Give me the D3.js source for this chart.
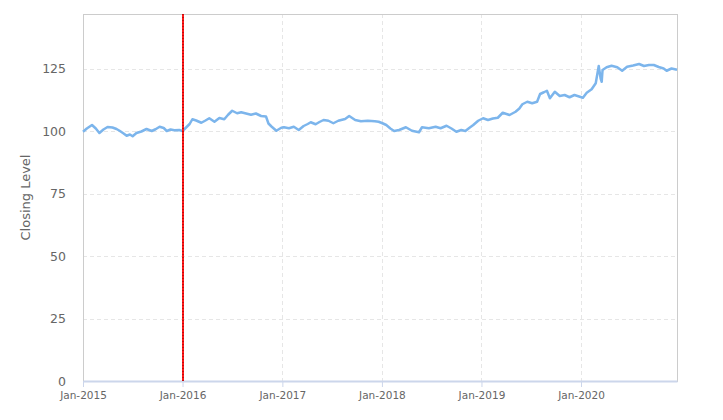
<!DOCTYPE html>
<html>
<head>
<meta charset="utf-8">
<script src="https://cdn.jsdelivr.net/npm/d3@7"></script>
<style>
  body { margin: 0; background: #fff; }
  svg text { font-family: 'DejaVu Sans', sans-serif; fill: #666; }
</style>
</head>
<body>
<svg></svg>
<script>
const DATES = [
  '2015-01-01', '2015-01-15', '2015-02-03', '2015-02-17', '2015-03-02', '2015-03-17', '2015-04-01', '2015-04-19',
  '2015-05-04', '2015-05-15', '2015-05-30', '2015-06-10', '2015-06-22', '2015-07-02', '2015-07-16', '2015-08-03',
  '2015-08-22', '2015-09-10', '2015-09-24', '2015-10-09', '2015-10-24', '2015-11-04', '2015-11-18', '2015-12-02',
  '2015-12-20', '2016-01-01', '2016-01-15', '2016-01-27', '2016-02-06', '2016-02-20', '2016-03-10', '2016-03-25',
  '2016-04-08', '2016-04-27', '2016-05-15', '2016-06-02', '2016-06-16', '2016-07-01', '2016-07-19', '2016-08-03',
  '2016-08-21', '2016-09-08', '2016-09-26', '2016-10-15', '2016-11-02', '2016-11-11', '2016-11-22', '2016-12-10',
  '2016-12-28', '2017-01-07', '2017-01-25', '2017-02-12', '2017-03-02', '2017-03-20', '2017-04-04', '2017-04-15',
  '2017-05-03', '2017-05-17', '2017-06-01', '2017-06-19', '2017-07-07', '2017-07-25', '2017-08-19', '2017-09-03',
  '2017-09-25', '2017-10-16', '2017-11-10', '2017-12-06', '2017-12-20', '2018-01-03', '2018-01-17', '2018-02-01',
  '2018-02-15', '2018-03-05', '2018-03-30', '2018-04-21', '2018-05-17', '2018-05-28', '2018-06-22', '2018-07-17',
  '2018-08-04', '2018-08-26', '2018-09-13', '2018-10-01', '2018-10-19', '2018-11-03', '2018-11-17', '2018-12-02',
  '2018-12-20', '2019-01-07', '2019-01-25', '2019-02-12', '2019-03-02', '2019-03-20', '2019-04-14', '2019-05-06',
  '2019-05-20', '2019-05-31', '2019-06-18', '2019-07-06', '2019-07-24', '2019-08-04', '2019-08-18', '2019-08-29',
  '2019-09-09', '2019-09-27', '2019-10-15', '2019-11-02', '2019-11-20', '2019-12-08', '2020-01-08', '2020-01-22',
  '2020-02-09', '2020-02-24', '2020-03-06', '2020-03-13', '2020-03-17', '2020-03-20', '2020-04-04', '2020-04-22',
  '2020-05-13', '2020-05-31', '2020-06-18', '2020-07-10', '2020-08-01', '2020-08-19', '2020-09-06', '2020-09-24',
  '2020-10-12', '2020-10-30', '2020-11-10', '2020-11-28', '2020-12-18'
]

const CLOSING_LEVELS = [
  99.7, 101.0, 102.4, 101.0, 99.2, 100.6, 101.6, 101.4,
  100.8, 100.1, 99.0, 98.1, 98.6, 97.9, 99.2, 99.8,
  100.8, 100.0, 100.7, 101.7, 101.2, 100.0, 100.6, 100.3,
  100.4, 100.0, 101.5, 102.8, 104.7, 104.2, 103.3, 104.2,
  105.1, 103.7, 105.2, 104.7, 106.5, 108.1, 107.1, 107.5,
  107.0, 106.5, 107.0, 106.0, 105.8, 103.0, 101.8, 100.1,
  101.3, 101.5, 101.1, 101.7, 100.4, 102.0, 102.8, 103.5,
  102.7, 103.6, 104.4, 104.1, 103.1, 104.1, 104.8, 106.0,
  104.4, 103.9, 104.1, 103.9, 103.7, 103.1, 102.4, 101.0,
  100.0, 100.4, 101.5, 100.1, 99.5, 101.5, 101.1, 101.7,
  101.1, 102.1, 101.0, 99.7, 100.4, 100.0, 101.2, 102.4,
  104.1, 105.1, 104.4, 105.0, 105.3, 107.3, 106.4, 107.7,
  109.0, 110.7, 111.7, 111.1, 111.7, 114.8, 115.5, 116.1,
  113.1, 115.7, 114.0, 114.4, 113.5, 114.4, 113.3, 115.3,
  116.7, 119.1, 126.0, 121.0, 119.7, 124.4, 125.5, 126.1,
  125.5, 124.1, 125.7, 126.2, 126.8, 126.0, 126.4, 126.4,
  125.6, 125.0, 124.1, 125.0, 124.5
]

const X_TICKS = ['2015-01-01', '2016-01-01', '2017-01-01', '2018-01-01', '2019-01-01', '2020-01-01']
const Y_TICKS = [0, 25, 50, 75, 100, 125]
const MARKER_DATE = '2016-01-01'
const Y_TITLE = 'Closing Level'

const WIDTH = 723
const HEIGHT = 420
const PLOT = { left: 83, right: 677, top: 14, bottom: 381 }

const parseDate = d3.utcParse('%Y-%m-%d')
const formatTick = d3.utcFormat('%b-%Y')

const series = DATES.map((d, i) => ({ date: parseDate(d), value: CLOSING_LEVELS[i] }))

const svg = d3.select('svg').attr('width', WIDTH).attr('height', HEIGHT)

const xScale = d3.scaleUtc()
  .domain([parseDate('2015-01-01'), parseDate('2020-12-18')])
  .range([PLOT.left, PLOT.right])

const yScale = d3.scaleLinear()
  .domain([0, 146.8])
  .range([PLOT.bottom, PLOT.top])

// grid lines
svg.append('g')
  .selectAll('line')
  .data(Y_TICKS.slice(1))
  .join('line')
  .attr('x1', PLOT.left).attr('x2', PLOT.right)
  .attr('y1', d => Math.round(yScale(d)) + 0.5).attr('y2', d => Math.round(yScale(d)) + 0.5)
  .attr('stroke', '#e6e6e6')
  .attr('stroke-dasharray', '4,3')

svg.append('g')
  .selectAll('line')
  .data(X_TICKS.slice(1).map(parseDate))
  .join('line')
  .attr('x1', d => Math.round(xScale(d)) + 0.5).attr('x2', d => Math.round(xScale(d)) + 0.5)
  .attr('y1', PLOT.top).attr('y2', PLOT.bottom)
  .attr('stroke', '#e6e6e6')
  .attr('stroke-dasharray', '4,3')

// plot border
svg.append('rect')
  .attr('x', PLOT.left + 0.5).attr('y', PLOT.top + 0.5)
  .attr('width', PLOT.right - PLOT.left).attr('height', PLOT.bottom - PLOT.top)
  .attr('fill', 'none')
  .attr('stroke', '#cccccc')

// y axis
const yAxis = d3.axisLeft(yScale).tickValues(Y_TICKS).tickSize(0).tickPadding(17)
const yG = svg.append('g').attr('transform', `translate(${PLOT.left}, 0)`).call(yAxis)
yG.select('.domain').remove()
yG.selectAll('text').attr('font-size', 12.5).attr('font-family', null).attr('fill', '#666')

// x axis
const xAxis = d3.axisBottom(xScale)
  .tickValues(X_TICKS.map(parseDate))
  .tickFormat(formatTick)
  .tickSize(6)
  .tickSizeOuter(0)
  .tickPadding(5)
const xG = svg.append('g').attr('transform', `translate(0, ${PLOT.bottom})`).call(xAxis)
xG.select('.domain').attr('stroke', '#ccd6eb').attr('stroke-width', 2)
xG.selectAll('.tick line').attr('stroke', '#ccd6eb')
xG.selectAll('text').attr('font-size', 10.5).attr('font-family', null).attr('fill', '#666')

// y title
svg.append('text')
  .text(Y_TITLE)
  .attr('transform', `translate(30, ${(PLOT.top + PLOT.bottom) / 2}) rotate(-90)`)
  .attr('text-anchor', 'middle')
  .attr('font-size', 13)

// series
const line = d3.line()
  .x(d => xScale(d.date))
  .y(d => yScale(d.value))

svg.append('path')
  .datum(series)
  .attr('d', line)
  .attr('fill', 'none')
  .attr('stroke', '#7cb5ec')
  .attr('stroke-width', 2.5)
  .attr('stroke-linejoin', 'round')

// marker line
const mx = Math.round(xScale(parseDate(MARKER_DATE)))
svg.append('line')
  .attr('x1', mx).attr('x2', mx)
  .attr('y1', PLOT.top).attr('y2', PLOT.bottom)
  .attr('stroke', '#ff1a1a')
  .attr('stroke-width', 2)
svg.append('line')
  .attr('x1', mx).attr('x2', mx)
  .attr('y1', PLOT.top).attr('y2', PLOT.bottom)
  .attr('stroke', '#8b0000')
  .attr('stroke-width', 1)
  .attr('stroke-dasharray', '1,2')
</script>
</body>
</html>
